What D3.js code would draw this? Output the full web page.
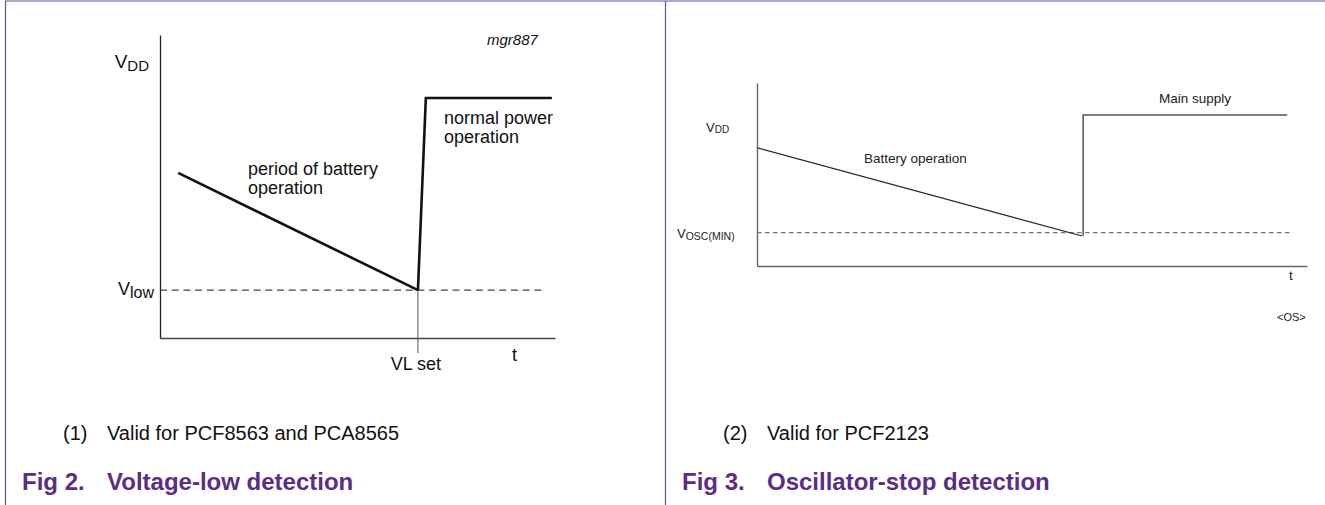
<!DOCTYPE html>
<html>
<head>
<meta charset="utf-8">
<script src="https://cdn.jsdelivr.net/npm/d3@7"></script>
<style>
  html, body { margin: 0; padding: 0; background: #fff; }
  svg { display: block; font-family: "Liberation Sans", Arial, Helvetica, sans-serif; }
</style>
</head>
<body>
<svg id="chart" width="1325" height="505"></svg>
<script>
// ---------- data (normalised time 0..100, normalised voltage 0..100) ----------
// Fig 2: Voltage-low detection
const fig2BatteryTime = [4.6, 65.3];
const fig2BatteryVolt = [54.5, 15.8];
const fig2MainTime = [65.3, 67.3, 99.2];
const fig2MainVolt = [15.8, 79.2, 79.2];
const fig2VlowLevel = 15.8;
const fig2VlowEnd = 97.7;
const fig2VLsetTime = 65.3;

// Fig 3: Oscillator-stop detection
const fig3BatteryTime = [0, 59.1];
const fig3BatteryVolt = [64.6, 16.4];
const fig3MainTime = [59.3, 59.3, 96.4];
const fig3MainVolt = [16.4, 82.5, 82.5];
const fig3VoscLevel = 18.2;
const fig3VoscEnd = 97.5;

// texts
const fig2Note = ["(1)", "Valid for PCF8563 and PCA8565"];
const fig2Title = ["Fig 2.", "Voltage-low detection"];
const fig3Note = ["(2)", "Valid for PCF2123"];
const fig3Title = ["Fig 3.", "Oscillator-stop detection"];

const zip = (a, b) => a.map((v, i) => [v, b[i]]);

const svg = d3.select("#chart");
const purple = "#5b2d86";
const border = "#6b4c9a";

// ---------- frame ----------
svg.append("line").attr("x1", 5).attr("x2", 1325).attr("y1", 1).attr("y2", 1)
  .attr("stroke", border).attr("stroke-width", 1.2);
svg.append("line").attr("x1", 5.5).attr("x2", 5.5).attr("y1", 1).attr("y2", 505)
  .attr("stroke", border).attr("stroke-width", 1.2);
svg.append("line").attr("x1", 665.5).attr("x2", 665.5).attr("y1", 1).attr("y2", 505)
  .attr("stroke", border).attr("stroke-width", 1.2);

// ---------- Fig 2 ----------
{
  const x = d3.scaleLinear().domain([0, 100]).range([160, 555]);
  const y = d3.scaleLinear().domain([0, 100]).range([338, 35]);
  const g = svg.append("g");
  const line = d3.line().x(d => x(d[0])).y(d => y(d[1]));

  // Vlow dashed level
  g.append("path").datum([[0, fig2VlowLevel], [fig2VlowEnd, fig2VlowLevel]])
    .attr("d", line).attr("fill", "none").attr("stroke", "#444")
    .attr("stroke-width", 1.3).attr("stroke-dasharray", "7,4.7");

  // VL set marker
  g.append("line").attr("x1", x(fig2VLsetTime)).attr("x2", x(fig2VLsetTime))
    .attr("y1", y(fig2VlowLevel)).attr("y2", y(0) + 15)
    .attr("stroke", "#555").attr("stroke-width", 1);

  // axes
  const xAxis = g.append("g").attr("transform", `translate(0,${y(0)})`)
    .call(d3.axisBottom(x).tickValues([]).tickSizeOuter(0));
  xAxis.select(".domain").attr("stroke", "#444").attr("stroke-width", 1.5);
  const yAxis = g.append("g").attr("transform", `translate(${x(0)},0)`)
    .call(d3.axisLeft(y).tickValues([]).tickSizeOuter(0));
  yAxis.select(".domain").attr("stroke", "#222").attr("stroke-width", 1.3);

  // supply curves
  g.append("path").datum(zip(fig2BatteryTime, fig2BatteryVolt))
    .attr("d", line).attr("fill", "none").attr("stroke", "#111")
    .attr("stroke-width", 2.6);
  g.append("path").datum(zip(fig2MainTime, fig2MainVolt))
    .attr("d", line).attr("fill", "none").attr("stroke", "#111")
    .attr("stroke-width", 2.6).attr("stroke-linejoin", "miter");

  // labels
  const vdd = g.append("text").attr("x", 149).attr("y", 68).attr("text-anchor", "end").attr("fill", "#111");
  vdd.append("tspan").attr("font-size", 19).text("V");
  vdd.append("tspan").attr("font-size", 15).attr("dy", 3).text("DD");
  const vlow = g.append("text").attr("x", 154).attr("y", 295).attr("text-anchor", "end").attr("fill", "#111");
  vlow.append("tspan").attr("font-size", 18).text("V");
  vlow.append("tspan").attr("font-size", 16).attr("dy", 3).text("low");

  g.append("text").attr("x", 487).attr("y", 45).attr("font-size", 15)
    .attr("font-style", "italic").attr("fill", "#111").text("mgr887");

  const t18 = (tx, ty, s, anchor) => g.append("text").attr("x", tx).attr("y", ty)
    .attr("font-size", 18).attr("fill", "#111").attr("text-anchor", anchor || "start").text(s);
  t18(248, 175, "period of battery");
  t18(248, 194, "operation");
  t18(444, 124, "normal power");
  t18(444, 143, "operation");
  t18(x(fig2VLsetTime) - 2, 370, "VL set", "middle");
  t18(512, 361, "t");
}

// ---------- Fig 3 ----------
{
  const x = d3.scaleLinear().domain([0, 100]).range([757, 1307]);
  const y = d3.scaleLinear().domain([0, 100]).range([266, 83]);
  const g = svg.append("g");
  const line = d3.line().x(d => x(d[0])).y(d => y(d[1]));

  g.append("path").datum([[0, fig3VoscLevel], [fig3VoscEnd, fig3VoscLevel]])
    .attr("d", line).attr("fill", "none").attr("stroke", "#777")
    .attr("stroke-width", 1.3).attr("stroke-dasharray", "4.5,3.5");

  const xAxis = g.append("g").attr("transform", `translate(0,${y(0)})`)
    .call(d3.axisBottom(x).tickValues([]).tickSizeOuter(0));
  xAxis.select(".domain").attr("stroke", "#666").attr("stroke-width", 1.5);
  const yAxis = g.append("g").attr("transform", `translate(${x(0)},0)`)
    .call(d3.axisLeft(y).tickValues([]).tickSizeOuter(0));
  yAxis.select(".domain").attr("stroke", "#666").attr("stroke-width", 1.4);

  g.append("path").datum(zip(fig3BatteryTime, fig3BatteryVolt))
    .attr("d", line).attr("fill", "none").attr("stroke", "#222")
    .attr("stroke-width", 1.2);
  g.append("path").datum(zip(fig3MainTime, fig3MainVolt))
    .attr("d", line).attr("fill", "none").attr("stroke", "#555")
    .attr("stroke-width", 1.5);

  const vdd = g.append("text").attr("x", 706).attr("y", 132).attr("fill", "#222");
  vdd.append("tspan").attr("font-size", 13).text("V");
  vdd.append("tspan").attr("font-size", 10).attr("dy", 1).text("DD");
  const vosc = g.append("text").attr("x", 677).attr("y", 238).attr("fill", "#222");
  vosc.append("tspan").attr("font-size", 13).text("V");
  vosc.append("tspan").attr("font-size", 10.5).attr("dy", 2).text("OSC(MIN)");

  const t13 = (tx, ty, s, fs) => g.append("text").attr("x", tx).attr("y", ty)
    .attr("font-size", fs || 13.5).attr("fill", "#222").text(s);
  t13(864, 163, "Battery operation");
  t13(1159, 103, "Main supply");
  t13(1289, 280, "t");
  t13(1277, 321, "<OS>", 11);
}

// ---------- captions ----------
function caption(dx, note, title) {
  svg.append("text").attr("x", 63 + dx).attr("y", 440).attr("font-size", 20)
    .attr("fill", "#111").text(note[0]);
  svg.append("text").attr("x", 107 + dx).attr("y", 440).attr("font-size", 20)
    .attr("fill", "#111").text(note[1]);
  svg.append("text").attr("x", 22 + dx).attr("y", 490).attr("font-size", 24)
    .attr("font-weight", "bold").attr("fill", purple).text(title[0]);
  svg.append("text").attr("x", 107 + dx).attr("y", 490).attr("font-size", 24)
    .attr("font-weight", "bold").attr("fill", purple).text(title[1]);
}
caption(0, fig2Note, fig2Title);
caption(660, fig3Note, fig3Title);
</script>
</body>
</html>
